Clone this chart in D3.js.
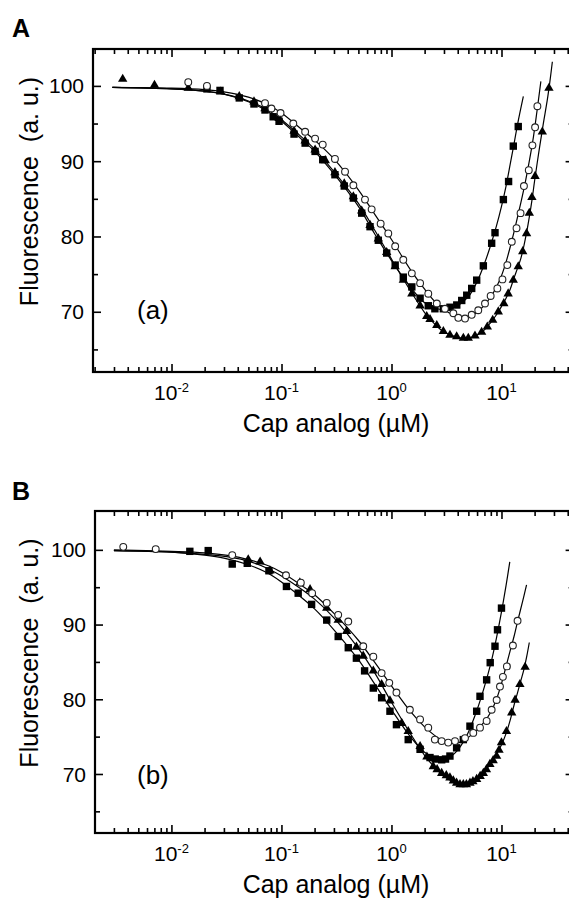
<!DOCTYPE html>
<html>
<head>
<meta charset="utf-8">
<script src="https://cdn.jsdelivr.net/npm/d3@7"></script>
<style>
  body { margin: 0; background: #fff; }
  svg { display: block; font-family: "Liberation Sans", Arial, sans-serif; }
</style>
</head>
<body>
<svg id="fig" width="569" height="899"></svg>
<script>
// ---- axis ticks ----
var xMajor = [0.01, 0.1, 1, 10];
var xExp = ["-2", "-1", "0", "1"];
var yMajor = [70, 80, 90, 100];
var yMinor = [65, 75, 85, 95];

// ---- panel A : [concentration uM, fluorescence] ----
var aSquares = [[0.021,99.6],[0.0276,99.4],[0.0413,98.4],[0.0562,97.6],[0.0708,96.8],[0.084,95.9],[0.095,95.3],
  [0.13,93.6],[0.164,92.4],[0.202,91.3],[0.237,90.2],[0.306,88.2],[0.372,86.7],[0.45,85.1],[0.536,83.1],
  [0.638,81.3],[0.759,79.5],[0.904,77.8],[1.08,76.2],[1.28,74.6],[1.53,73.3],[1.82,71.8],[2.16,70.8],
  [2.48,70.4],[2.96,70.4],[3.4,70.6],[3.92,70.9],[4.35,71.5],[4.83,72.2],[5.36,73.1],[5.95,74.2],
  [6.84,76.1],[8.14,79.1],[8.73,80.5],[10.4,84.9],[11.6,87.3],[12.8,92.0],[14.2,94.6]];
var aCircles = [[0.0142,100.5],[0.021,100.0],[0.0708,97.7],[0.081,97.0],[0.098,96.4],[0.128,95.0],[0.164,93.9],
  [0.202,93.0],[0.237,92.2],[0.306,90.3],[0.378,88.6],[0.45,86.8],[0.574,84.9],[0.66,83.6],[0.797,81.7],
  [0.935,80.4],[1.08,78.7],[1.28,76.9],[1.53,75.1],[1.82,73.8],[2.16,72.4],[2.58,71.1],[3.06,70.4],
  [3.65,69.8],[4.05,69.2],[4.66,69.1],[5.36,69.6],[6.15,70.2],[7.08,71.1],[7.97,72.1],[9.17,73.1],
  [10.2,74.3],[11.3,76.2],[12.4,79.3],[13.7,81.1],[14.9,83.1],[16.0,86.7],[17.7,88.8],[19.1,92.1],
  [20.2,94.5],[21.2,97.3]];
var aTriangles = [[0.0036,100.9],[0.007,100.1],[0.0142,99.7],[0.028,99.2],[0.0413,98.6],[0.0562,97.9],[0.0708,97.0],
  [0.095,95.7],[0.13,94.0],[0.164,92.7],[0.202,91.5],[0.25,90.1],[0.306,88.5],[0.372,87.0],[0.45,85.3],
  [0.536,83.4],[0.638,81.5],[0.759,79.7],[0.904,77.9],[1.08,76.0],[1.28,74.2],[1.53,72.4],[1.82,70.8],
  [2.09,69.4],[2.24,69.0],[2.58,68.2],[2.96,67.4],[3.4,66.9],[3.91,66.7],[4.5,66.5],[4.99,66.5],
  [5.74,66.8],[6.6,67.3],[7.43,68.0],[8.32,68.9],[9.35,70.0],[10.5,71.1],[11.5,72.4],[12.8,74.2],
  [14.2,76.0],[15.6,78.0],[16.9,80.4],[17.9,83.1],[18.9,85.2],[20.2,88.0],[23.5,93.9],[27.0,99.7]];

var aFitSquares = [[0.0029,99.8],[0.01,99.6],[0.02,99.3],[0.03,98.9],[0.05,97.9],[0.075,96.6],[0.1,95.3],
  [0.15,93.0],[0.2,91.3],[0.3,88.3],[0.5,84.0],[0.7,80.4],[1.0,76.8],[1.5,73.2],[2.0,71.2],[2.6,70.4],
  [3.2,70.3],[4.0,70.8],[5.0,72.0],[6.0,74.0],[7.0,76.4],[8.0,78.9],[9.0,81.4],[10.0,84.0],[11.0,86.7],
  [12.0,89.6],[13.0,92.3],[14.0,94.9],[15.8,98.6]];
var aFitCircles = [[0.0029,99.8],[0.01,99.7],[0.02,99.5],[0.03,99.2],[0.05,98.5],[0.075,97.5],[0.1,96.4],
  [0.15,94.3],[0.2,92.8],[0.3,90.3],[0.5,86.2],[0.7,83.0],[1.0,79.6],[1.5,75.5],[2.0,73.0],[2.5,71.3],
  [3.0,70.3],[3.6,69.6],[4.3,69.2],[5.0,69.3],[6.0,69.9],[7.0,70.9],[8.0,72.0],[9.0,73.3],[10.0,74.8],
  [11.0,76.6],[12.0,78.6],[13.0,80.6],[14.0,82.6],[15.0,84.5],[16.5,87.3],[18.0,90.2],[19.5,93.2],
  [21.0,96.6],[22.8,100.6]];
var aFitTriangles = [[0.0029,99.8],[0.01,99.6],[0.02,99.3],[0.03,98.9],[0.05,98.0],[0.075,96.8],[0.1,95.5],
  [0.15,93.3],[0.2,91.6],[0.3,88.6],[0.5,84.4],[0.7,80.9],[1.0,77.0],[1.5,72.7],[2.0,69.9],[2.5,68.3],
  [3.0,67.3],[3.6,66.8],[4.3,66.5],[5.0,66.5],[6.0,66.9],[7.0,67.6],[8.0,68.6],[9.0,69.6],[10.0,70.7],
  [11.0,71.8],[12.0,73.0],[13.0,74.5],[14.0,75.8],[15.0,77.1],[16.0,78.8],[17.0,80.7],[18.0,82.8],
  [19.0,85.0],[20.0,87.4],[22.0,91.5],[24.0,95.0],[26.0,98.0],[27.5,100.5],[29.0,103.2]];

// ---- panel B ----
var bSquares = [[0.0147,99.8],[0.0216,99.9],[0.0357,98.1],[0.0489,98.2],[0.077,97.2],[0.111,95.1],[0.142,94.2],
  [0.188,92.7],[0.258,90.6],[0.328,88.4],[0.405,86.9],[0.48,85.5],[0.57,83.8],[0.684,81.5],[0.814,80.2],
  [0.969,78.4],[1.11,76.6],[1.42,74.6],[1.82,73.3],[2.24,72.2],[2.5,72.0],[2.86,71.9],[3.1,72.0],[3.4,72.4],
  [3.91,73.5],[4.5,74.6],[5.17,76.4],[5.95,78.4],[6.38,80.4],[7.33,82.6],[7.9,84.9],[8.73,87.1],
  [9.2,89.3],[10.0,92.2]];
var bCircles = [[0.00365,100.4],[0.0072,100.1],[0.0357,99.3],[0.11,96.6],[0.15,95.6],[0.19,94.2],[0.258,92.9],
  [0.328,91.3],[0.405,90.4],[0.554,87.1],[0.684,85.7],[0.814,83.5],[0.955,82.2],[1.11,80.9],[1.47,78.6],
  [1.82,77.3],[2.16,76.2],[2.48,74.6],[2.86,74.4],[3.28,74.2],[3.78,74.4],[4.66,74.8],[5.54,75.5],
  [6.38,76.2],[7.33,77.1],[8.14,78.6],[9.04,79.9],[9.69,81.7],[10.3,83.0],[11.2,84.4],[12.7,87.2],[14.0,90.5]];
var bTriangles = [[0.0499,98.7],[0.064,98.4],[0.0786,97.2],[0.147,95.6],[0.182,94.7],[0.258,92.2],[0.328,90.6],
  [0.391,89.1],[0.48,87.0],[0.554,85.8],[0.684,83.8],[0.814,82.0],[0.969,79.8],[1.24,76.8],[1.42,75.7],
  [1.82,73.7],[2.1,72.3],[2.4,71.0],[2.6,70.6],[2.86,70.1],[3.15,69.8],[3.4,69.5],[3.65,69.1],[3.91,68.8],
  [4.2,68.6],[4.5,68.6],[4.8,68.6],[5.17,68.8],[5.5,69.0],[5.95,69.3],[6.4,69.7],[6.84,70.1],[7.3,70.6],
  [7.85,71.3],[8.4,71.8],[9.03,72.4],[9.5,73.2],[10.0,74.2],[11.1,75.7],[12.4,78.2],[13.3,79.9],
  [14.7,82.0],[16.4,84.3]];

var bFitSquares = [[0.003,99.9],[0.01,99.7],[0.02,99.3],[0.03,98.9],[0.05,98.0],[0.075,96.9],[0.1,95.7],
  [0.15,93.7],[0.2,92.1],[0.3,89.3],[0.5,85.3],[0.7,82.1],[1.0,78.6],[1.5,74.9],[2.0,72.9],[2.5,72.1],
  [3.0,72.0],[3.5,72.4],[4.0,73.2],[4.5,74.3],[5.0,75.6],[6.0,78.6],[7.0,81.7],[8.0,84.8],[9.0,88.2],
  [10.0,91.7],[11.0,95.2],[11.9,98.4]];
var bFitCircles = [[0.003,100.0],[0.01,99.8],[0.02,99.6],[0.035,99.2],[0.05,98.7],[0.075,97.9],[0.1,97.0],
  [0.15,95.3],[0.2,94.0],[0.3,91.5],[0.5,87.9],[0.7,85.0],[1.0,81.8],[1.5,78.3],[2.0,76.3],[2.5,75.1],
  [3.0,74.4],[3.6,74.1],[4.3,74.3],[5.0,74.9],[6.0,75.9],[7.0,77.0],[8.0,78.3],[9.0,80.0],[10.0,82.1],
  [11.0,84.4],[12.0,86.5],[13.0,88.4],[14.0,90.4],[15.5,93.0],[16.9,95.3]];
var bFitTriangles = [[0.003,99.9],[0.01,99.7],[0.02,99.4],[0.035,99.0],[0.05,98.5],[0.075,97.5],[0.1,96.5],
  [0.15,94.8],[0.2,93.4],[0.3,90.9],[0.5,86.8],[0.7,83.6],[1.0,79.6],[1.5,75.3],[2.0,72.5],[2.5,70.8],
  [3.0,69.7],[3.6,69.0],[4.3,68.6],[5.0,68.7],[6.0,69.3],[7.0,70.3],[8.0,71.4],[9.0,72.6],[10.0,73.9],
  [11.0,75.4],[12.0,77.2],[13.0,79.2],[14.0,80.9],[15.0,82.5],[16.0,84.0],[17.0,85.8],[17.9,87.6]];

var svg = d3.select("#fig");

function minorTicks(dom) {
  var out = [];
  for (var e = -3; e <= 1; e++) {
    for (var m = 2; m <= 9; m++) {
      var v = m * Math.pow(10, e);
      if (v > dom[0] && v < dom[1]) out.push(v);
    }
  }
  return out;
}

function drawPanel(p) {
  var x = d3.scaleLog().domain(p.xDom).range([p.left, p.right]);
  var y = d3.scaleLinear().domain(p.yDom).range([p.bottom, p.top]);
  var g = svg.append("g");
  var xMinor = minorTicks(p.xDom);

  // ticks (inward) on all four sides
  g.append("g").attr("transform", "translate(0," + p.bottom + ")")
    .call(d3.axisBottom(x).tickValues(xMajor).tickSize(-8).tickFormat(""));
  g.append("g").attr("transform", "translate(0," + p.bottom + ")")
    .call(d3.axisBottom(x).tickValues(xMinor).tickSize(-5).tickFormat(""));
  g.append("g").attr("transform", "translate(0," + p.top + ")")
    .call(d3.axisTop(x).tickValues(xMajor).tickSize(-8).tickFormat(""));
  g.append("g").attr("transform", "translate(0," + p.top + ")")
    .call(d3.axisTop(x).tickValues(xMinor).tickSize(-5).tickFormat(""));
  g.append("g").attr("transform", "translate(" + p.left + ",0)")
    .call(d3.axisLeft(y).tickValues(yMajor).tickSize(-8).tickFormat(""));
  g.append("g").attr("transform", "translate(" + p.left + ",0)")
    .call(d3.axisLeft(y).tickValues(yMinor).tickSize(-5).tickFormat(""));
  g.append("g").attr("transform", "translate(" + p.right + ",0)")
    .call(d3.axisRight(y).tickValues(yMajor).tickSize(-8).tickFormat(""));
  g.append("g").attr("transform", "translate(" + p.right + ",0)")
    .call(d3.axisRight(y).tickValues(yMinor).tickSize(-5).tickFormat(""));
  g.selectAll(".domain").remove();
  g.selectAll(".tick line").attr("stroke", "#000").attr("stroke-width", 1.6);

  // frame
  g.append("rect")
    .attr("x", p.left).attr("y", p.top)
    .attr("width", p.right - p.left).attr("height", p.bottom - p.top)
    .attr("fill", "none").attr("stroke", "#000").attr("stroke-width", 2.2);

  // y tick labels
  g.selectAll(".ylab").data(yMajor).join("text")
    .attr("x", p.left - 9).attr("y", function (d) { return y(d); })
    .attr("dy", "0.36em").attr("text-anchor", "end")
    .attr("font-size", 21).text(function (d) { return d; });

  // x tick labels 10^n
  var xl = g.selectAll(".xlab").data(xMajor).join("text")
    .attr("x", function (d) { return x(d); }).attr("y", p.bottom + 28)
    .attr("text-anchor", "middle").attr("font-size", 21);
  xl.append("tspan").text("10");
  xl.append("tspan").attr("dy", -8).attr("font-size", 13)
    .text(function (d, i) { return xExp[i]; });

  // axis titles
  g.append("text").attr("x", 336).attr("y", p.bottom + 60)
    .attr("text-anchor", "middle").attr("font-size", 25).text("Cap analog (\u00b5M)");
  g.append("text")
    .attr("transform", "translate(38," + ((p.top + p.bottom) / 2 - 19) + ") rotate(-90)")
    .attr("text-anchor", "middle").attr("font-size", 25)
    .attr("xml:space", "preserve").text("Fluorescence  (a. u.)");

  // panel letter and tag
  g.append("text").attr("x", 12).attr("y", p.letterY)
    .attr("font-size", 25).attr("font-weight", "bold").text(p.letter);
  g.append("text").attr("x", 137).attr("y", p.tagY)
    .attr("font-size", 26).text(p.tag);

  // fitted curves
  var line = d3.line()
    .x(function (d) { return x(d[0]); })
    .y(function (d) { return y(d[1]); })
    .curve(d3.curveCatmullRom.alpha(0.5));
  p.fits.forEach(function (f) {
    g.append("path").attr("d", line(f))
      .attr("fill", "none").attr("stroke", "#000").attr("stroke-width", 1.2);
  });

  // markers
  g.selectAll(".sq").data(p.squares).join("rect")
    .attr("x", function (d) { return x(d[0]) - 3.7; })
    .attr("y", function (d) { return y(d[1]) - 3.7; })
    .attr("width", 7.4).attr("height", 7.4).attr("fill", "#000");
  g.selectAll(".tri").data(p.triangles).join("path")
    .attr("d", d3.symbol().type(d3.symbolTriangle).size(38))
    .attr("transform", function (d) { return "translate(" + x(d[0]) + "," + y(d[1]) + ")"; })
    .attr("fill", "#000");
  g.selectAll(".ci").data(p.circles).join("circle")
    .attr("cx", function (d) { return x(d[0]); })
    .attr("cy", function (d) { return y(d[1]); })
    .attr("r", 3.4).attr("fill", "#fff").attr("stroke", "#222").attr("stroke-width", 1.1);
}

drawPanel({
  letter: "A", letterY: 37, tag: "(a)", tagY: 319,
  left: 93, right: 573.6, top: 49, bottom: 372,
  xDom: [0.001933, 45.24], yDom: [62, 104.9],
  squares: aSquares, circles: aCircles, triangles: aTriangles,
  fits: [aFitSquares, aFitCircles, aFitTriangles]
});
drawPanel({
  letter: "B", letterY: 500, tag: "(b)", tagY: 784,
  left: 95, right: 573.6, top: 511, bottom: 833,
  xDom: [0.00202, 45.24], yDom: [62.1, 105.2],
  squares: bSquares, circles: bCircles, triangles: bTriangles,
  fits: [bFitSquares, bFitCircles, bFitTriangles]
});
</script>
</body>
</html>
